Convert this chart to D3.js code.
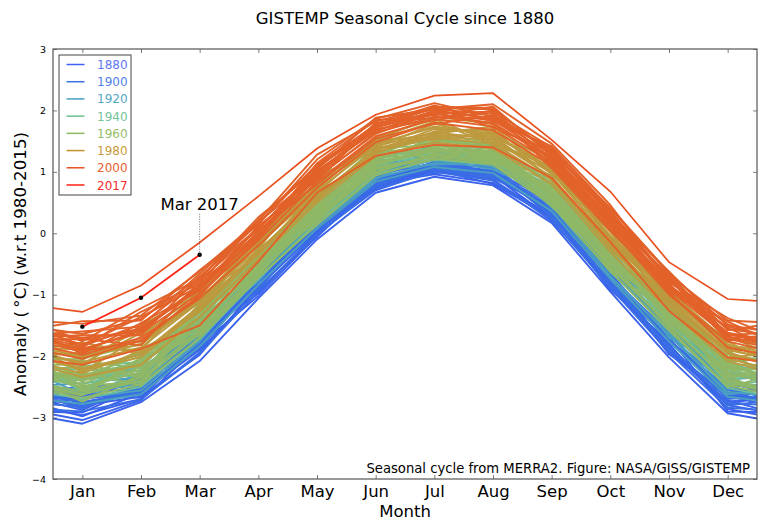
<!DOCTYPE html>
<html>
<head>
<meta charset="utf-8">
<script src="https://cdn.jsdelivr.net/npm/d3@7"></script>
<style>
body { margin: 0; background: #fff; }
svg { display: block; }
text { font-family: "DejaVu Sans", sans-serif; fill: #000; }
</style>
</head>
<body>
<svg id="chart" width="768" height="532"></svg>
<script>
var months = ['Jan','Feb','Mar','Apr','May','Jun','Jul','Aug','Sep','Oct','Nov','Dec'];
var y_ticks = [3, 2, 1, 0, -1, -2, -3, -4];
var legend_years = [1880, 1900, 1920, 1940, 1960, 1980, 2000, 2017];
var legend_colors = ['#3f5ff5', '#3a70e0', '#4ba0c0', '#6cc090', '#8db860', '#c0902a', '#e8501e', '#ff2010'];
var legend_text_colors = ['#5f78f5', '#4f7fe8', '#55a5c4', '#74c49a', '#95bd68', '#c89a3c', '#ea6030', '#f52a28'];
// one line colour per block of rows below
var era_colors = ['#3a62ec', '#3a6ee4', '#4b9fc0', '#6cbf98', '#90b866', '#90b866', '#bd9a3e', '#e2622a'];

// monthly anomalies Jan..Dec, oldest first
var era_1880 = [
  [-3.10,-2.75,-2.08,-1.06,-0.10,0.66,0.92,0.78,0.17,-0.95,-2.02,-2.93],
  [-2.98,-2.60,-1.90,-0.96,0.00,0.70,1.02,0.88,0.20,-0.82,-1.93,-2.72],
  [-3.04,-2.72,-1.82,-1.02,-0.04,0.80,0.96,0.82,0.30,-0.90,-1.80,-2.86],
  [-2.80,-2.66,-1.98,-0.86,0.08,0.74,1.08,0.94,0.24,-0.72,-1.97,-2.62],
  [-2.92,-2.48,-1.72,-0.92,-0.06,0.86,1.00,0.98,0.36,-0.86,-1.70,-2.90],
  [-2.70,-2.58,-1.86,-0.78,0.12,0.78,1.12,0.90,0.42,-0.78,-1.86,-2.68],
  [-2.96,-2.70,-1.94,-0.88,0.04,0.72,1.04,0.80,0.26,-0.70,-1.88,-2.80],
  [-2.84,-2.52,-1.66,-0.98,0.02,0.84,0.98,1.02,0.32,-0.92,-1.76,-2.58],
  [-2.64,-2.62,-1.78,-0.82,0.14,0.76,1.06,0.92,0.38,-0.66,-1.92,-2.74],
  [-2.88,-2.44,-1.84,-0.74,0.06,0.90,1.10,0.86,0.28,-0.80,-1.64,-2.64],
  [-2.76,-2.56,-1.60,-0.90,0.16,0.82,1.14,0.96,0.44,-0.74,-1.74,-2.52],
  [-2.60,-2.68,-1.74,-0.80,0.10,0.88,1.02,1.04,0.34,-0.84,-1.82,-2.78]
];
var era_1900 = [
  [-2.90,-2.70,-1.96,-0.94,-0.02,0.72,1.00,0.86,0.22,-0.88,-1.94,-2.84],
  [-2.74,-2.60,-1.78,-0.86,0.10,0.82,1.06,0.94,0.36,-0.76,-1.72,-2.62],
  [-2.82,-2.50,-1.88,-0.78,0.04,0.78,1.12,1.00,0.30,-0.82,-1.84,-2.76],
  [-2.62,-2.64,-1.70,-0.90,0.16,0.90,1.04,0.90,0.44,-0.70,-1.62,-2.70],
  [-2.86,-2.44,-1.82,-0.72,0.08,0.86,1.16,1.06,0.26,-0.64,-1.78,-2.54],
  [-2.56,-2.56,-1.62,-0.84,0.20,0.76,1.10,0.98,0.48,-0.78,-1.88,-2.66],
  [-2.70,-2.38,-1.74,-0.68,0.12,0.94,1.20,0.92,0.40,-0.58,-1.56,-2.80],
  [-2.78,-2.52,-1.58,-0.80,0.06,0.84,1.08,1.10,0.34,-0.74,-1.68,-2.48],
  [-2.50,-2.46,-1.66,-0.74,0.22,0.96,1.14,1.02,0.52,-0.68,-1.74,-2.58],
  [-2.66,-2.32,-1.52,-0.64,0.18,0.92,1.22,1.12,0.46,-0.60,-1.52,-2.44]
];
var era_1920 = [
  [-2.78,-2.62,-1.84,-0.84,0.08,0.84,1.08,0.98,0.36,-0.74,-1.76,-2.66],
  [-2.60,-2.44,-1.62,-0.74,0.24,0.98,1.26,1.10,0.54,-0.60,-1.50,-2.42],
  [-2.68,-2.56,-1.76,-0.66,0.14,0.90,1.14,1.16,0.44,-0.70,-1.66,-2.58],
  [-2.44,-2.34,-1.54,-0.78,0.30,1.06,1.20,1.04,0.62,-0.52,-1.58,-2.50],
  [-2.72,-2.26,-1.68,-0.60,0.18,0.94,1.30,1.22,0.50,-0.64,-1.40,-2.34],
  [-2.52,-2.50,-1.46,-0.70,0.34,1.02,1.12,1.14,0.58,-0.46,-1.62,-2.62],
  [-2.38,-2.18,-1.58,-0.54,0.26,1.10,1.24,1.08,0.66,-0.56,-1.46,-2.28],
  [-2.56,-2.40,-1.40,-0.62,0.12,0.88,1.32,1.26,0.42,-0.42,-1.54,-2.46],
  [-2.32,-2.10,-1.50,-0.50,0.36,1.04,1.18,1.20,0.68,-0.50,-1.34,-2.38],
  [-2.62,-2.30,-1.64,-0.58,0.22,1.12,1.28,1.18,0.56,-0.38,-1.70,-2.20]
];
var era_1940 = [
  [-2.70,-2.50,-1.72,-0.74,0.18,0.96,1.20,1.12,0.48,-0.62,-1.58,-2.52],
  [-2.46,-2.22,-1.50,-0.56,0.34,1.14,1.36,1.26,0.66,-0.44,-1.30,-2.24],
  [-2.62,-2.40,-1.64,-0.46,0.24,1.04,1.26,1.32,0.56,-0.56,-1.46,-2.42],
  [-2.28,-2.34,-1.38,-0.64,0.42,1.22,1.40,1.18,0.74,-0.34,-1.50,-2.32],
  [-2.54,-2.04,-1.58,-0.52,0.30,1.10,1.44,1.38,0.60,-0.50,-1.20,-2.10],
  [-2.38,-2.28,-1.28,-0.38,0.46,1.18,1.30,1.22,0.78,-0.28,-1.38,-2.46],
  [-2.22,-1.96,-1.44,-0.60,0.38,1.26,1.34,1.34,0.70,-0.40,-1.14,-2.18],
  [-2.58,-2.16,-1.20,-0.42,0.28,1.06,1.46,1.28,0.54,-0.24,-1.42,-2.04],
  [-2.34,-2.44,-1.34,-0.34,0.50,1.16,1.24,1.42,0.82,-0.46,-1.26,-2.36],
  [-2.16,-2.10,-1.52,-0.48,0.40,1.28,1.38,1.16,0.64,-0.20,-1.10,-2.26]
];
var era_1950 = [
  [-2.68,-2.46,-1.70,-0.72,0.14,0.94,1.22,1.12,0.46,-0.62,-1.58,-2.48],
  [-2.40,-2.12,-1.30,-0.44,0.40,1.16,1.34,1.24,0.74,-0.38,-1.24,-2.16],
  [-2.58,-2.36,-1.58,-0.62,0.22,1.00,1.28,1.30,0.52,-0.56,-1.50,-2.38],
  [-2.30,-2.24,-1.44,-0.54,0.46,1.20,1.40,1.18,0.68,-0.42,-1.36,-2.26],
  [-2.64,-2.04,-1.66,-0.68,0.30,1.08,1.24,1.34,0.60,-0.50,-1.18,-2.44],
  [-2.48,-2.42,-1.36,-0.48,0.18,1.12,1.38,1.22,0.50,-0.36,-1.44,-2.10],
  [-2.74,-2.30,-1.50,-0.58,0.34,0.98,1.30,1.16,0.78,-0.60,-1.30,-2.32],
  [-2.26,-2.48,-1.26,-0.70,0.42,1.06,1.20,1.26,0.44,-0.46,-1.54,-2.50],
  [-2.52,-2.18,-1.60,-0.40,0.26,1.14,1.36,1.32,0.58,-0.54,-1.22,-2.20],
  [-2.36,-2.08,-1.22,-0.52,0.38,1.24,1.26,1.20,0.72,-0.32,-1.40,-2.30]
];
var era_1960 = [
  [-2.62,-2.40,-1.62,-0.66,0.26,1.04,1.26,1.14,0.54,-0.54,-1.48,-2.40],
  [-2.32,-2.00,-1.28,-0.34,0.56,1.24,1.50,1.42,0.82,-0.24,-1.14,-2.02],
  [-2.50,-2.26,-1.52,-0.50,0.36,1.12,1.34,1.46,0.62,-0.40,-1.34,-2.28],
  [-2.14,-2.30,-1.18,-0.58,0.62,1.30,1.44,1.24,0.88,-0.18,-1.38,-2.14],
  [-2.42,-1.88,-1.42,-0.28,0.42,1.18,1.56,1.36,0.70,-0.46,-1.06,-1.96],
  [-2.24,-2.16,-1.34,-0.44,0.52,1.34,1.32,1.50,0.76,-0.14,-1.24,-2.34],
  [-2.04,-1.80,-1.10,-0.40,0.68,1.22,1.48,1.28,0.92,-0.28,-1.02,-2.08],
  [-2.56,-2.10,-1.46,-0.24,0.34,1.38,1.52,1.40,0.66,-0.34,-1.28,-1.90],
  [-2.18,-2.34,-1.24,-0.52,0.48,1.14,1.38,1.20,0.84,-0.10,-1.44,-2.22],
  [-2.36,-1.94,-1.56,-0.30,0.64,1.28,1.60,1.48,0.58,-0.22,-1.10,-2.18],
  [-2.08,-2.20,-1.14,-0.36,0.58,1.40,1.42,1.34,0.94,-0.36,-1.18,-2.00],
  [-2.46,-2.04,-1.38,-0.46,0.44,1.20,1.54,1.44,0.78,-0.16,-1.32,-2.12]
];
var era_1980 = [
  [-2.34,-2.14,-1.36,-0.42,0.50,1.26,1.48,1.38,0.80,-0.30,-1.26,-2.08],
  [-2.20,-1.98,-1.20,-0.28,0.60,1.32,1.56,1.46,0.88,-0.20,-1.12,-1.94],
  [-2.00,-1.74,-1.06,-0.14,0.78,1.44,1.74,1.60,1.04,-0.04,-0.98,-1.82],
  [-2.22,-2.02,-1.24,-0.30,0.62,1.36,1.58,1.52,0.92,-0.16,-1.14,-1.96],
  [-2.10,-1.86,-1.12,-0.20,0.70,1.42,1.64,1.54,0.98,-0.12,-1.08,-1.90],
  [-1.86,-1.90,-0.90,-0.22,0.84,1.50,1.82,1.44,1.10,0.06,-1.06,-1.72],
  [-2.12,-1.62,-1.14,-0.04,0.56,1.30,1.66,1.70,0.86,-0.22,-0.90,-1.88],
  [-2.28,-1.92,-1.28,-0.34,0.54,1.38,1.60,1.58,0.90,-0.24,-1.18,-2.04],
  [-1.94,-1.82,-1.02,-0.36,0.72,1.54,1.52,1.64,1.00,0.02,-1.20,-2.02],
  [-2.26,-1.68,-0.96,-0.10,0.90,1.40,1.78,1.56,1.14,-0.10,-0.94,-1.76],
  [-2.02,-1.80,-1.10,-0.16,0.76,1.46,1.72,1.62,1.06,-0.08,-1.04,-1.86],
  [-1.78,-1.96,-1.18,-0.18,0.66,1.48,1.62,1.74,0.96,0.10,-1.10,-1.92],
  [-2.06,-1.56,-0.86,0.02,0.80,1.56,1.86,1.48,1.08,-0.06,-0.86,-1.68],
  [-1.90,-1.76,-1.08,-0.26,0.94,1.34,1.70,1.66,1.18,0.04,-1.02,-1.84],
  [-2.16,-1.50,-0.98,-0.06,0.74,1.52,1.90,1.78,1.02,-0.14,-0.92,-1.80]
];
var era_2000 = [
  [-2.14,-1.88,-1.50,-0.46,0.66,1.26,1.44,1.40,0.90,-0.14,-1.26,-2.02],
  [-1.90,-1.58,-0.90,-0.02,0.92,1.62,1.96,1.78,1.22,0.24,-0.84,-1.62],
  [-1.98,-1.70,-1.06,-0.20,0.74,1.48,1.80,1.68,1.10,0.08,-1.00,-1.76],
  [-2.04,-1.74,-1.02,0.04,0.80,1.54,1.78,1.92,1.12,0.12,-0.96,-1.86],
  [-1.88,-1.62,-0.98,-0.12,0.84,1.58,1.86,1.74,1.16,0.16,-0.92,-1.68],
  [-1.72,-1.82,-0.78,-0.10,1.08,1.72,2.04,1.72,1.32,0.36,-0.74,-1.74],
  [-1.80,-1.54,-0.92,-0.04,0.90,1.64,1.90,1.80,1.20,0.20,-0.88,-1.62],
  [-1.96,-1.46,-0.94,0.12,0.86,1.80,1.88,1.96,1.06,0.04,-0.90,-1.54],
  [-1.92,-1.76,-1.00,-0.08,0.98,1.68,1.94,1.84,1.24,0.26,-0.82,-1.72],
  [-1.66,-1.66,-0.70,0.08,1.02,1.66,2.00,1.86,1.38,0.28,-0.70,-1.70],
  [-1.82,-1.36,-0.86,-0.06,1.14,1.84,1.92,2.06,1.26,0.18,-0.78,-1.48],
  [-1.70,-1.60,-0.84,0.02,1.00,1.74,1.98,1.88,1.28,0.30,-0.76,-1.56],
  [-1.60,-1.52,-0.66,0.18,0.96,1.76,2.08,1.82,1.42,0.40,-0.66,-1.66],
  [-1.84,-1.48,-0.76,0.06,1.06,1.78,2.02,1.94,1.34,0.34,-0.72,-1.64],
  [-1.86,-1.28,-0.82,0.22,1.10,1.70,1.84,2.00,1.18,0.14,-0.86,-1.44],
  [-1.74,-1.56,-0.88,0.10,0.94,1.72,1.96,1.98,1.40,0.38,-0.94,-1.52],
  [-1.43,-1.42,-0.60,0.14,1.20,1.86,2.12,1.90,1.36,0.32,-0.62,-1.58],
  [-1.64,-1.40,-0.72,0.16,1.12,1.76,2.04,2.02,1.30,0.42,-0.64,-1.50],
  [-1.76,-1.22,-0.74,0.26,1.04,1.88,2.02,2.10,1.46,0.46,-0.80,-1.38],
  [-1.47,-1.34,-0.62,0.20,1.28,1.82,2.06,2.04,1.30,0.22,-0.68,-1.42]
];
var top_2016 = [-1.28,-0.85,-0.15,0.60,1.38,1.93,2.24,2.28,1.52,0.68,-0.47,-1.07];
var top_2016_edges = [-1.16, -1.13];
var mar_2017 = [-1.52,-1.05,-0.35];

var eras = [era_1880, era_1900, era_1920, era_1940, era_1950, era_1960, era_1980, era_2000];

var width = 768, height = 532;
var left = 53, right = 757, top_y = 49, bottom = 479;

var svg = d3.select('#chart');

var x = d3.scaleLinear().domain([0.5, 12.5]).range([left, right]);
var y = d3.scaleLinear().domain([-4, 3]).range([bottom, top_y]);

svg.append('clipPath').attr('id', 'plot_clip')
  .append('rect')
  .attr('x', left).attr('y', top_y)
  .attr('width', right - left).attr('height', bottom - top_y);

var line = d3.line().x(function (d) { return x(d[0]); }).y(function (d) { return y(d[1]); });

// Dec and Jan are repeated at both ends so the lines run off the frame
function wrap_year(values, edges) {
  var pts = values.map(function (v, i) { return [i + 1, v]; });
  pts.unshift([0, edges ? edges[0] : values[11]]);
  pts.push([13, edges ? edges[1] : values[0]]);
  return pts;
}

var plot = svg.append('g').attr('clip-path', 'url(#plot_clip)');

eras.forEach(function (rows, e) {
  rows.forEach(function (values) {
    plot.append('path')
      .attr('d', line(wrap_year(values)))
      .attr('fill', 'none')
      .attr('stroke', era_colors[e])
      .attr('stroke-width', 1.9)
      .attr('stroke-linejoin', 'round');
  });
});

plot.append('path')
  .attr('d', line(wrap_year(top_2016, top_2016_edges)))
  .attr('fill', 'none')
  .attr('stroke', legend_colors[6])
  .attr('stroke-width', 1.7);

var pts_2017 = mar_2017.map(function (v, i) { return [i + 1, v]; });

plot.append('path')
  .attr('d', line(pts_2017))
  .attr('fill', 'none')
  .attr('stroke', legend_colors[7])
  .attr('stroke-width', 1.7);

plot.selectAll('circle.mark')
  .data(pts_2017)
  .enter().append('circle')
  .attr('class', 'mark')
  .attr('cx', function (d) { return x(d[0]); })
  .attr('cy', function (d) { return y(d[1]); })
  .attr('r', 2.2)
  .attr('fill', '#000');

// annotation for the last month
svg.append('line')
  .attr('x1', x(3)).attr('x2', x(3))
  .attr('y1', y(mar_2017[2])).attr('y2', 213)
  .attr('stroke', '#444')
  .attr('stroke-width', 0.8)
  .attr('stroke-dasharray', '1,1.5');

svg.append('text')
  .attr('x', x(3)).attr('y', 210)
  .attr('text-anchor', 'middle')
  .attr('font-size', 16.5)
  .text('Mar 2017');

// axes, ticks point inward on all four sides like the original
var month_ticks = months.map(function (m, i) { return i + 1; });

function style_axis(g) {
  g.select('.domain').remove();
  g.selectAll('.tick line').attr('stroke', '#444').attr('stroke-width', 0.7);
}

svg.append('g')
  .attr('transform', 'translate(0,' + bottom + ')')
  .call(d3.axisBottom(x).tickValues(month_ticks).tickSize(-4).tickPadding(6)
    .tickFormat(function (d) { return months[d - 1]; }))
  .call(style_axis)
  .selectAll('text').attr('font-size', 16.5).attr('font-family', '"DejaVu Sans"').attr('fill', '#000');

svg.append('g')
  .attr('transform', 'translate(0,' + top_y + ')')
  .call(d3.axisTop(x).tickValues(month_ticks).tickSize(-4).tickFormat(''))
  .call(style_axis);

svg.append('g')
  .attr('transform', 'translate(' + left + ',0)')
  .call(d3.axisLeft(y).tickValues(y_ticks).tickSize(-4).tickPadding(7).tickFormat(function (d) {
    return d < 0 ? '\u2212' + Math.abs(d) : d;
  }))
  .call(style_axis)
  .selectAll('text').attr('font-size', 9.5).attr('font-family', '"DejaVu Sans"').attr('fill', '#000');

svg.append('g')
  .attr('transform', 'translate(' + right + ',0)')
  .call(d3.axisRight(y).tickValues(y_ticks).tickSize(-4).tickFormat(''))
  .call(style_axis);

svg.append('rect')
  .attr('x', left).attr('y', top_y)
  .attr('width', right - left).attr('height', bottom - top_y)
  .attr('fill', 'none')
  .attr('stroke', '#555')
  .attr('stroke-width', 1.2);

// titles
svg.append('text')
  .attr('x', 405).attr('y', 24)
  .attr('text-anchor', 'middle')
  .attr('font-size', 16.5)
  .text('GISTEMP Seasonal Cycle since 1880');

svg.append('text')
  .attr('x', 405).attr('y', 517)
  .attr('text-anchor', 'middle')
  .attr('font-size', 16.5)
  .text('Month');

svg.append('text')
  .attr('transform', 'translate(26,264) rotate(-90)')
  .attr('text-anchor', 'middle')
  .attr('font-size', 16.7)
  .text('Anomaly (\u2009\u00b0C) (w.r.t 1980-2015)');

svg.append('text')
  .attr('x', 750).attr('y', 473)
  .attr('text-anchor', 'end')
  .attr('font-size', 13.2)
  .text('Seasonal cycle from MERRA2. Figure: NASA/GISS/GISTEMP');

// legend
var legend = svg.append('g');

legend.append('rect')
  .attr('x', 59).attr('y', 55)
  .attr('width', 72).attr('height', 140)
  .attr('fill', '#fff')
  .attr('stroke', '#444')
  .attr('stroke-width', 1);

var legend_y = d3.scalePoint().domain(legend_years).range([64.5, 185]);

var entries = legend.selectAll('g.entry')
  .data(legend_years)
  .enter().append('g')
  .attr('class', 'entry')
  .attr('transform', function (d) { return 'translate(0,' + legend_y(d) + ')'; });

entries.append('line')
  .attr('x1', 66.5).attr('x2', 84.5)
  .attr('stroke', function (d, i) { return legend_colors[i]; })
  .attr('stroke-width', 1.5);

entries.append('text')
  .attr('x', 97).attr('y', 4.5)
  .attr('font-size', 12)
  .style('fill', function (d, i) { return legend_text_colors[i]; })
  .text(function (d) { return d; });
</script>
</body>
</html>
